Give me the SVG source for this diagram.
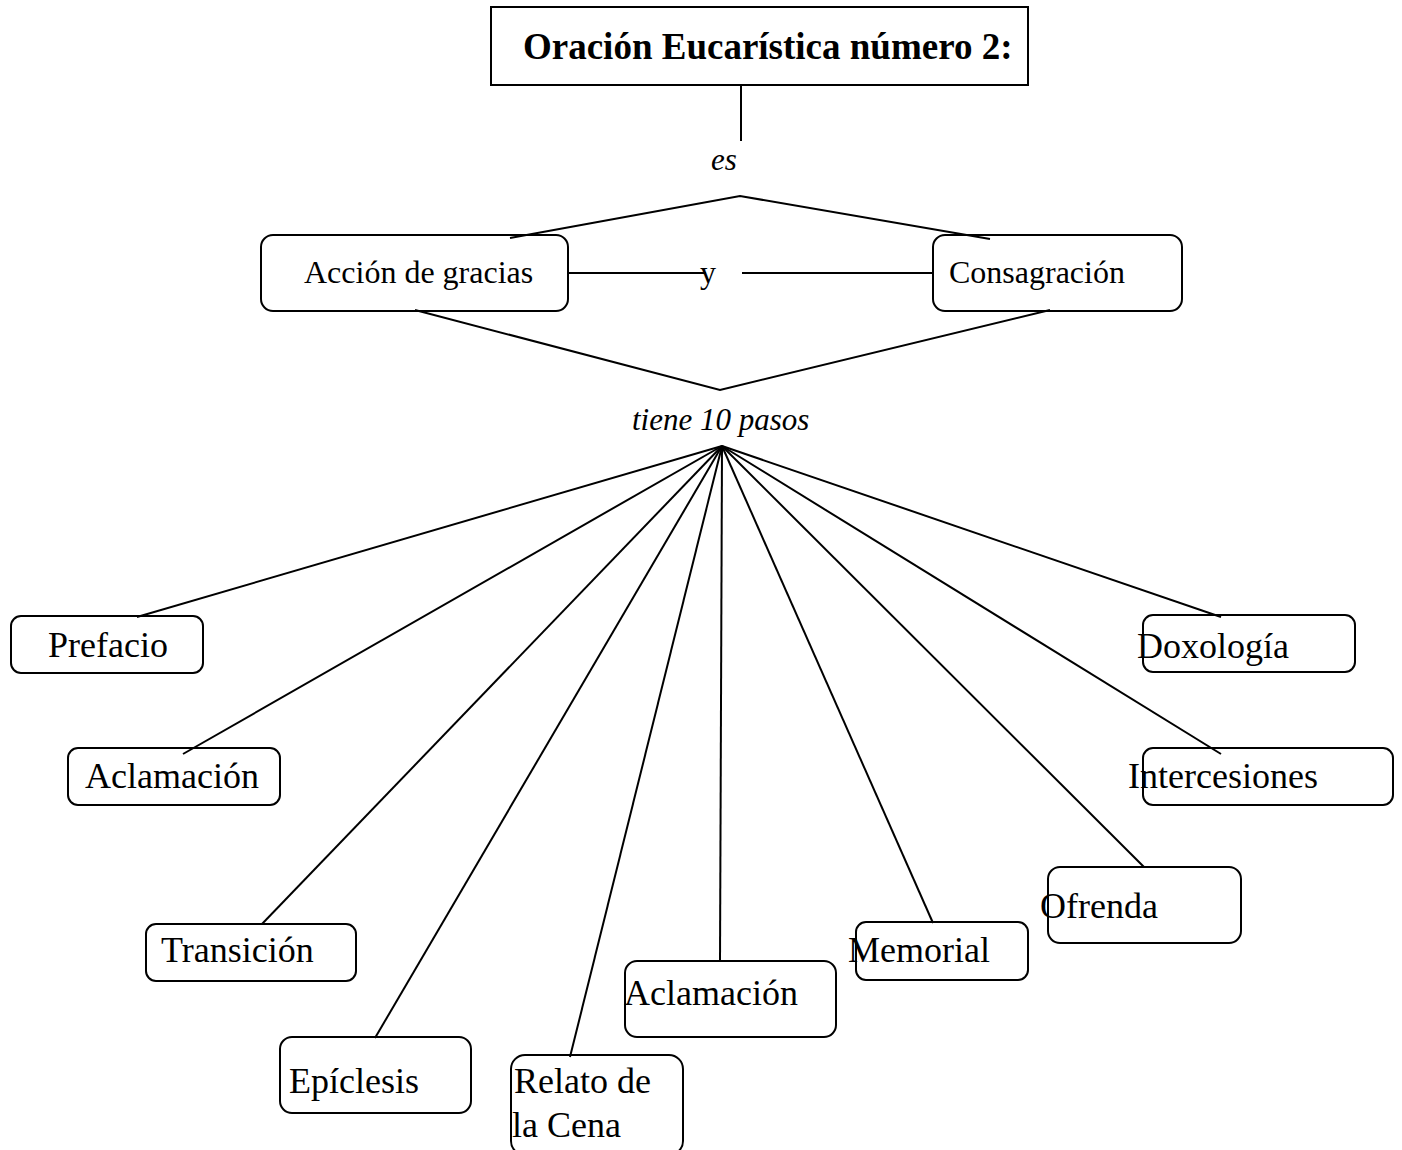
<svg xmlns="http://www.w3.org/2000/svg" width="1402" height="1150" viewBox="0 0 1402 1150">
<style>
.box{fill:none;stroke:#000;stroke-width:2}
.ln{stroke:#000;stroke-width:2;fill:none}
.t{font-family:"Liberation Serif","Times New Roman",serif;fill:#000}
.n{font-size:36px}
.m{font-size:32px}
.i{font-style:italic;font-size:31px}
.b{font-weight:bold;font-size:37px}
</style>
<rect width="1402" height="1150" fill="#fff"/>
<g id="connectors">
<line class="ln" x1="741" y1="85" x2="741" y2="141"/>
<polyline class="ln" points="510,238 740,196 990,239"/>
<line class="ln" x1="568" y1="273" x2="706" y2="273"/>
<line class="ln" x1="742" y1="273" x2="933" y2="273"/>
<polyline class="ln" points="415,310 720,390 1050,310"/>
<line class="ln" x1="722" y1="446" x2="137" y2="617"/>
<line class="ln" x1="722" y1="446" x2="183" y2="754"/>
<line class="ln" x1="722" y1="446" x2="262" y2="924"/>
<line class="ln" x1="722" y1="446" x2="375" y2="1038"/>
<line class="ln" x1="722" y1="446" x2="570" y2="1057"/>
<line class="ln" x1="722" y1="446" x2="720" y2="962"/>
<line class="ln" x1="722" y1="446" x2="933" y2="923"/>
<line class="ln" x1="722" y1="446" x2="1144" y2="867"/>
<line class="ln" x1="722" y1="446" x2="1221" y2="754"/>
<line class="ln" x1="722" y1="446" x2="1221" y2="617"/>
</g>
<g id="title">
<rect x="491" y="7" width="537" height="78" fill="none" stroke="#000" stroke-width="2"/>
<text class="t b" x="523" y="59">Oración Eucarística número 2:</text>
</g>
<g id="label-es"><text class="t i" x="711" y="170">es</text></g>
<g id="accion">
<rect class="box" x="261" y="235" width="307" height="76" rx="12"/>
<text class="t m" x="304" y="283">Acción de gracias</text>
</g>
<g id="label-y"><text class="t m" x="700" y="283">y</text></g>
<g id="consagracion">
<rect class="box" x="933" y="235" width="249" height="76" rx="12"/>
<text class="t m" x="949" y="283">Consagración</text>
</g>
<g id="label-tiene"><text class="t i" x="632" y="430">tiene 10 pasos</text></g>
<g id="prefacio">
<rect class="box" x="11" y="616" width="192" height="57" rx="10"/>
<text class="t n" x="48" y="657">Prefacio</text>
</g>
<g id="aclamacion1">
<rect class="box" x="68" y="748" width="212" height="57" rx="10"/>
<text class="t n" x="85" y="788">Aclamación</text>
</g>
<g id="transicion">
<rect class="box" x="146" y="924" width="210" height="57" rx="10"/>
<text class="t n" x="161" y="962">Transición</text>
</g>
<g id="epiclesis">
<rect class="box" x="280" y="1037" width="191" height="76" rx="12"/>
<text class="t n" x="289" y="1093">Epíclesis</text>
</g>
<g id="relato">
<rect class="box" x="511" y="1055" width="172" height="100" rx="14"/>
<text class="t n" x="514" y="1093">Relato de</text>
<text class="t n" x="512" y="1137">la Cena</text>
</g>
<g id="aclamacion2">
<rect class="box" x="625" y="961" width="211" height="76" rx="12"/>
<text class="t n" x="624" y="1005">Aclamación</text>
</g>
<g id="memorial">
<rect class="box" x="856" y="922" width="172" height="58" rx="10"/>
<text class="t n" x="848" y="962">Memorial</text>
</g>
<g id="ofrenda">
<rect class="box" x="1048" y="867" width="193" height="76" rx="12"/>
<text class="t n" x="1040" y="918">Ofrenda</text>
</g>
<g id="intercesiones">
<rect class="box" x="1143" y="748" width="250" height="57" rx="10"/>
<text class="t n" x="1128" y="788">Intercesiones</text>
</g>
<g id="doxologia">
<rect class="box" x="1143" y="615" width="212" height="57" rx="10"/>
<text class="t n" x="1137" y="658">Doxología</text>
</g>
</svg>
